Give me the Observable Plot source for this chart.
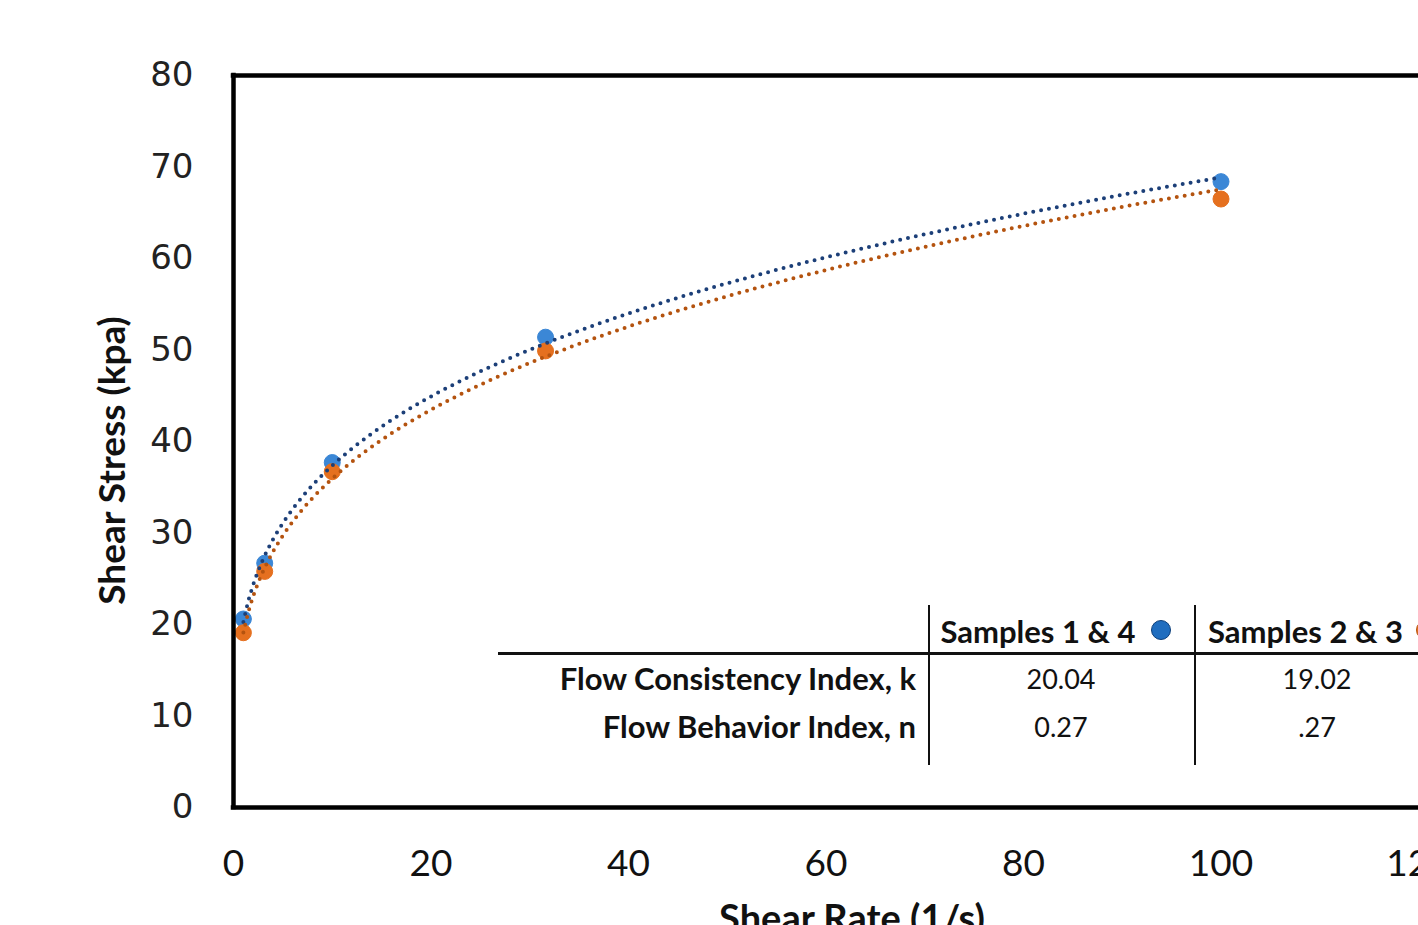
<!DOCTYPE html>
<html>
<head>
<meta charset="utf-8">
<script src="https://cdn.jsdelivr.net/npm/d3@7"></script>
<script src="https://cdn.jsdelivr.net/npm/@observablehq/plot@0.6"></script>
<style>
  html, body { margin: 0; padding: 0; background: #fff; overflow: hidden; }
  #wrap { position: relative; width: 1418px; height: 925px; overflow: hidden; }
  .t { position: absolute; white-space: nowrap; font-family: Lato, "Open Sans", sans-serif; font-size: 27px; color: #111; line-height: 1; }
  .b { font-weight: bold; font-size: 31px; }
  .c { transform: translate(-50%, -50%); }
  .r { transform: translate(-100%, -50%); }
  .l { transform: translate(0, -50%); }
  .hl { position: absolute; background: #111; }
  .dot { position: absolute; border-radius: 50%; transform: translate(-50%, -50%); }
</style>
</head>
<body>
<div id="wrap"></div>
<script>
// ---- data ----
const shearRate = [1, 3.16, 10, 31.6, 100];
const stress14 = [20.6, 26.7, 37.7, 51.4, 68.4];
const stress23 = [19.1, 25.8, 36.7, 49.9, 66.5];
const seriesNames = ["Samples 1 & 4", "Samples 2 & 3"];
const seriesColors = ["#3b87d6", "#e5701f"];
const trendColors = ["#1c3f78", "#b4530f"];
const rowLabels = ["Flow Consistency Index, k", "Flow Behavior Index, n"];
const kValues = ["20.04", "19.02"];
const nValues = ["0.27", ".27"];
const xTicks = [0, 20, 40, 60, 80, 100, 120];
const yTicks = [0, 10, 20, 30, 40, 50, 60, 70, 80];
const xLabel = "Shear Rate (1/s)";
const yLabel = "Shear Stress (kpa)";

// points table
const points = [];
[stress14, stress23].forEach((ys, s) => ys.forEach((y, i) => points.push({series: seriesNames[s], x: shearRate[i], y})));

// power-law trendline (least squares in log-log space, like a spreadsheet "power" trendline)
function powerFit(xs, ys) {
  const lx = xs.map(Math.log), ly = ys.map(Math.log);
  const mx = d3.mean(lx), my = d3.mean(ly);
  const n = d3.sum(lx, (v, i) => (v - mx) * (ly[i] - my)) / d3.sum(lx, v => (v - mx) ** 2);
  const k = Math.exp(my - n * mx);
  return {k, n};
}
const trend = [];
[stress14, stress23].forEach((ys, s) => {
  const f = powerFit(shearRate, ys);
  const x0 = d3.min(shearRate), x1 = d3.max(shearRate);
  for (let i = 0; i <= 200; i++) {
    const x = x0 + (x1 - x0) * i / 200;
    trend.push({series: seriesNames[s], x, y: f.k * Math.pow(x, f.n)});
  }
});

const chart = Plot.plot({
  width: 1418,
  height: 960,
  marginLeft: 233,
  marginRight: 0,
  marginTop: 75,
  marginBottom: 153,
  style: {background: "#fff", overflow: "visible"},
  x: {domain: [0, 120], ticks: xTicks, tickSize: 0, label: null},
  y: {domain: [0, 80], ticks: yTicks, tickSize: 0, label: null},
  color: {domain: seriesNames, range: seriesColors},
  marks: [
    Plot.axisY({ticks: yTicks, tickSize: 0, tickPadding: 40, fontSize: 34, fontFamily: "DejaVu Sans", fill: "#222", label: null}),
    Plot.axisX({ticks: xTicks, tickSize: 0, tickPadding: 42, fontSize: 37, fontFamily: "Lato", fill: "#111", label: null}),
    Plot.dot(points, {x: "x", y: "y", fill: "series", r: 8, stroke: "series", strokeWidth: 1}),
    Plot.line(trend, {x: "x", y: "y", z: "series", stroke: (d) => trendColors[seriesNames.indexOf(d.series)],
      strokeWidth: 4, strokeDasharray: "0 8", strokeLinecap: "round"}),
    Plot.ruleY([0, 80], {stroke: "#000", strokeWidth: 4.5, strokeLinecap: "square"}),
    Plot.ruleX([0], {stroke: "#000", strokeWidth: 4.5, strokeLinecap: "square"}),
    Plot.text([yLabel], {frameAnchor: "left", textAnchor: "middle", rotate: -90, dx: -120, dy: 19, fontSize: 37, fontWeight: "bold", fontFamily: "Lato", fill: "#111"}),
    Plot.text([xLabel], {frameAnchor: "bottom", dx: 26, dy: 124, fontSize: 38, fontWeight: "bold", fontFamily: "Lato", fill: "#111"})
  ]
});

const wrap = document.getElementById("wrap");
wrap.appendChild(chart);

// ---- parameter table (HTML overlay) ----
function el(cls, text, style) {
  const d = document.createElement("div");
  d.className = cls;
  if (text != null) d.textContent = text;
  Object.assign(d.style, style);
  wrap.appendChild(d);
  return d;
}
// lines
el("hl", null, {left: "498px", top: "652px", width: "940px", height: "3px"});
el("hl", null, {left: "928px", top: "605px", width: "2px", height: "160px"});
el("hl", null, {left: "1194px", top: "605px", width: "2px", height: "160px"});
// headers
el("t b c", seriesNames[0], {left: "1038px", top: "631px"});
el("dot", null, {left: "1161px", top: "630px", width: "20px", height: "20px", background: "#1f6dbf", border: "1.5px solid #0d3f7a", boxSizing: "border-box"});
el("t b l", seriesNames[1], {left: "1208px", top: "631px"});
el("dot", null, {left: "1426px", top: "630px", width: "20px", height: "20px", background: "#e5701f", border: "1.5px solid #b4530f", boxSizing: "border-box"});
// rows
const colX = [1061, 1317];
const rowY = [678, 726];
const rowVals = [kValues, nValues];
rowLabels.forEach((lab, i) => {
  el("t b r", lab, {left: "916px", top: rowY[i] + "px"});
  rowVals[i].forEach((v, j) => el("t c", v, {left: colX[j] + "px", top: rowY[i] + "px"}));
});
</script>
</body>
</html>
